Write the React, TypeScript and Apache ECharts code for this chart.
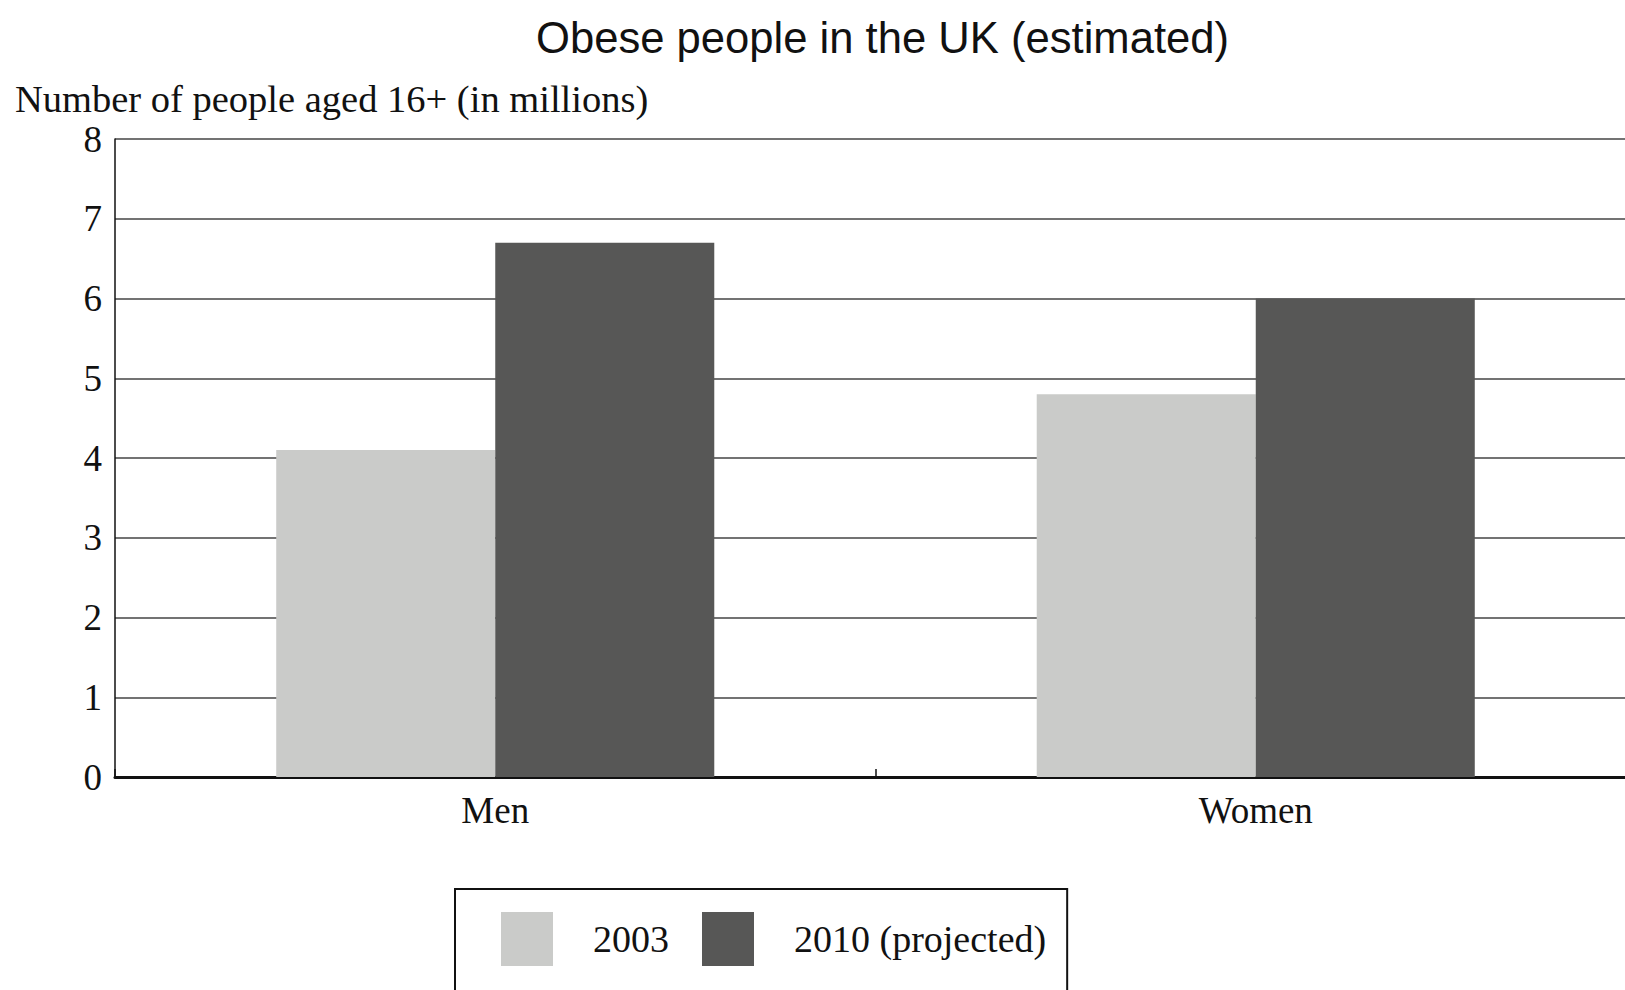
import React, { useEffect, useRef } from 'react';
import * as echarts from 'echarts';

const categories = ['Men', 'Women'];
const seriesNames = ['2003', '2010 (projected)'];
const values2003 = [4.1, 4.8];
const values2010 = [6.7, 6.0];
const yTicks = { min: 0, max: 8, interval: 1 };

const SERIF = '"Liberation Serif", "Times New Roman", serif';
const SANS = '"Liberation Sans", Arial, sans-serif';

export default function App() {
  const ref = useRef<HTMLDivElement | null>(null);

  useEffect(() => {
    if (!ref.current) return;
    const chart = echarts.init(ref.current, undefined, { renderer: 'svg' });
    chart.setOption({
      animation: false,
      backgroundColor: '#ffffff',
      title: [
        {
          text: 'Obese people in the UK (estimated)',
          left: 536,
          top: 16,
          padding: 0,
          textStyle: { fontFamily: SANS, fontSize: 43.6, fontWeight: 'normal', color: '#111' }
        },
        {
          text: 'Number of people aged 16+ (in millions)',
          left: 15,
          top: 79,
          padding: 0,
          textStyle: { fontFamily: SERIF, fontSize: 38.5, fontWeight: 'normal', color: '#111' }
        }
      ],
      // the plot runs past the right edge of the picture, as in the original
      grid: { left: 115, right: 14, top: 139, bottom: 213, containLabel: false },
      legend: {
        data: seriesNames,
        left: 455,
        top: 889,
        orient: 'horizontal',
        icon: 'rect',
        itemWidth: 52,
        itemHeight: 54,
        itemGap: 33,
        padding: [23, 21, 60, 46],
        borderColor: '#111',
        borderWidth: 2,
        textStyle: { fontFamily: SERIF, fontSize: 38, color: '#111', padding: [0, 0, 0, 35] }
      },
      xAxis: {
        type: 'category',
        data: categories,
        axisLine: { lineStyle: { color: '#111', width: 3 } },
        axisTick: { show: true, inside: true, length: 8, lineStyle: { color: '#111', width: 1.5 } },
        axisLabel: { fontFamily: SERIF, fontSize: 37, color: '#111', margin: 15 },
        splitLine: { show: false }
      },
      yAxis: {
        type: 'value',
        min: yTicks.min,
        max: yTicks.max,
        interval: yTicks.interval,
        axisLine: { show: true, lineStyle: { color: '#111', width: 1.5 } },
        axisTick: { show: false },
        axisLabel: { fontFamily: SERIF, fontSize: 37, color: '#111', margin: 13 },
        splitLine: { lineStyle: { color: '#444', width: 1.5 } }
      },
      series: [
        {
          name: seriesNames[0],
          type: 'bar',
          data: values2003,
          barGap: '0%',
          barCategoryGap: '42.4%',
          itemStyle: { color: '#cacbc9' }
        },
        {
          name: seriesNames[1],
          type: 'bar',
          data: values2010,
          barGap: '0%',
          barCategoryGap: '42.4%',
          itemStyle: { color: '#575756' }
        }
      ]
    });
    return () => { chart.dispose(); };
  }, []);

  return <div ref={ref} style={{ position: 'fixed', left: 0, top: 0, width: 1650, height: 990 }} />;
}
